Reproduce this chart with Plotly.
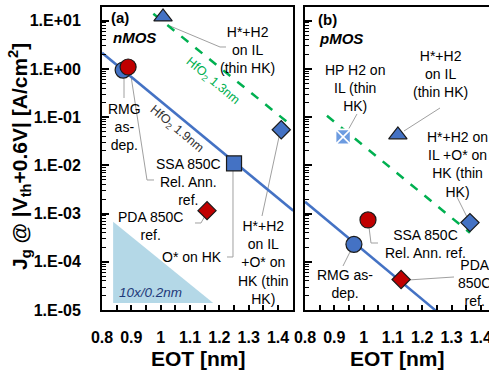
import plotly.graph_objects as go
import numpy as np

W, H = 489, 372

# ---------------- data ----------------
# nMOS (a)
N_LABELS = ["H*+H2 on IL (thin HK)", "RMG as-dep.", "SSA 850C Rel. Ann. ref.",
            "O* on HK", "H*+H2 on IL +O* on HK (thin HK)", "PDA 850C ref."]
N_EOT = [1.008, 0.872, 0.889, 1.250, 1.411, 1.158]
N_JG = [12.0, 0.95, 1.1, 0.011, 0.055, 0.00115]

# pMOS (b)
P_LABELS = ["HP H2 on IL (thin HK)", "H*+H2 on IL (thin HK)", "H*+H2 on IL +O* on HK (thin HK)",
            "SSA 850C Rel. Ann. ref.", "RMG as-dep.", "PDA 850C ref."]
P_EOT = [0.930, 1.117, 1.363, 1.015, 0.967, 1.128]
P_JG = [0.039, 0.043, 0.00065, 0.00074, 0.00023, 0.000043]

# HfO2 reference lines
N_FIT19_EOT = [0.80, 1.452]
N_FIT19_JG = [2.17, 1.15e-3]
N_FIT13_EOT = [0.975, 1.435]
N_FIT13_JG = [14.0, 0.076]
P_FIT19_EOT = [0.80, 1.250]
P_FIT19_JG = [1.76e-3, 9.3e-6]
P_FIT13_EOT = [0.875, 1.363]
P_FIT13_JG = [0.107, 4.0e-4]

# slope guide triangle (10x / 0.2nm)
SLOPE_EOT = [0.838, 0.838, 1.179, 0.838]
SLOPE_JG = [6.8e-4, 1.4e-5, 1.4e-5, 6.8e-4]

Y_TICKS = [1e-5, 1e-4, 1e-3, 1e-2, 1e-1, 1e0, 1e1]
Y_TICKTEXT = ["1.E-05", "1.E-04", "1.E-03", "1.E-02", "1.E-01", "1.E+00", "1.E+01"]
X_TICKS = [0.8, 0.9, 1.0, 1.1, 1.2, 1.3, 1.4]
X_TICKTEXT = ["0.8", "0.9", "1", "1.1", "1.2", "1.3", "1.4"]

# ---------------- style ----------------
BLUE = "#4472C4"
LBLUE = "#6C9BE0"
RED = "#C00000"
GREEN = "#00B050"
FONT = "Arial, Liberation Sans, sans-serif"
GRAY = "#A0A0A0"

def px(x):
    return x / W

def py(y):
    return 1 - y / H

XA = [px(102), px(293)]
XB = [px(305), 1.0]
YD = [py(310), py(7)]

fig = go.Figure()

# slope triangle
fig.add_trace(go.Scatter(x=SLOPE_EOT, y=SLOPE_JG, mode="lines", fill="toself",
                         fillcolor="#B4D8E7", line=dict(width=0, color="#B4D8E7"),
                         hoverinfo="skip", xaxis="x", yaxis="y"))

# fit lines
fig.add_trace(go.Scatter(x=N_FIT19_EOT, y=N_FIT19_JG, mode="lines",
                         line=dict(color=BLUE, width=2.5), xaxis="x", yaxis="y"))
fig.add_trace(go.Scatter(x=N_FIT13_EOT, y=N_FIT13_JG, mode="lines",
                         line=dict(color=GREEN, width=2.5, dash="dash"), xaxis="x", yaxis="y"))
fig.add_trace(go.Scatter(x=P_FIT19_EOT, y=P_FIT19_JG, mode="lines",
                         line=dict(color=BLUE, width=2.5), xaxis="x2", yaxis="y2"))
fig.add_trace(go.Scatter(x=P_FIT13_EOT, y=P_FIT13_JG, mode="lines",
                         line=dict(color=GREEN, width=2.5, dash="dash"), xaxis="x2", yaxis="y2"))

# markers
fig.add_trace(go.Scatter(
    x=N_EOT, y=N_JG, mode="markers", text=N_LABELS, xaxis="x", yaxis="y",
    marker=dict(symbol=["triangle-up", "circle", "circle", "square", "diamond", "diamond"],
                size=[16, 16, 16, 15, 14, 14], opacity=1,
                color=[BLUE, BLUE, RED, BLUE, BLUE, RED],
                line=dict(color="#1a1a1a", width=1.2))))
fig.add_trace(go.Scatter(
    x=P_EOT, y=P_JG, mode="markers", text=P_LABELS, xaxis="x2", yaxis="y2",
    marker=dict(symbol=["square-x", "triangle-up", "diamond", "circle", "circle", "diamond"],
                size=[15, 16, 14, 16, 16, 14], opacity=1,
                color=[LBLUE, BLUE, BLUE, RED, BLUE, RED],
                line=dict(color=["white", "#1a1a1a", "#1a1a1a", "#1a1a1a", "#1a1a1a", "#1a1a1a"],
                          width=[1.6, 1.2, 1.2, 1.2, 1.2, 1.2]))))

# leader lines (pixel coordinates)
leaders = [
    [(170, 26), (220, 47), (226, 47)],
    [(124, 78), (124, 98)],
    [(131, 76), (147, 180), (154, 180)],
    [(206, 214), (201, 223), (195, 223)],
    [(233, 171), (233, 257), (227, 257)],
    [(279, 137), (262, 216)],
    [(347, 132), (357, 114)],
    [(404, 131), (440, 108)],
    [(467, 217), (457, 197)],
    [(369, 227), (371, 243), (378, 243)],
    [(351, 250), (343, 266)],
    [(408, 280), (454, 277)],
]
shapes = []
for pts in leaders:
    path = "M " + " L ".join(f"{px(a):.5f},{py(b):.5f}" for a, b in pts)
    shapes.append(dict(type="path", path=path, xref="paper", yref="paper",
                       line=dict(color=GRAY, width=1), layer="below"))

anns = []
def ann(text, x, y, size=14, color="black", angle=0, xanchor="center", bold=False, italic=False):
    t = text
    if bold:
        t = "<b>" + t + "</b>"
    if italic:
        t = "<i>" + t + "</i>"
    anns.append(dict(text=t, x=px(x), y=py(y), xref="paper", yref="paper",
                     showarrow=False, xanchor=xanchor, yanchor="middle",
                     textangle=angle, font=dict(family=FONT, size=size, color=color)))

# panel (a)
ann("(a)", 109, 18, size=15, xanchor="left", bold=True)
ann("nMOS", 111, 37, size=15, xanchor="left", bold=True, italic=True)
ann("H*+H2<br>on IL<br>(thin HK)", 247, 50)
ann("HfO<sub>2</sub> 1.3nm", 212, 81, size=12.5, color=GREEN, angle=40)
ann("HfO<sub>2</sub> 1.9nm", 176, 129, size=12.5, color="#333333", angle=40)
ann("RMG<br>as-<br>dep.", 124, 127)
ann("SSA 850C<br>Rel. Ann.<br>ref.", 188, 182)
ann("PDA 850C<br>ref.", 150, 226)
ann("O* on HK", 192, 257)
ann("H*+H2<br>on IL<br>+O* on<br>HK (thin<br>HK)", 263, 262)
ann("10x/0.2nm", 150, 292, size=13.5, color="#1F3A7A", italic=True)

# panel (b)
ann("(b)", 316, 20, size=15, xanchor="left", bold=True)
ann("pMOS", 317, 38, size=15, xanchor="left", bold=True, italic=True)
ann("HP H2 on<br>IL (thin<br>HK)", 355, 88)
ann("H*+H2<br>on IL<br>(thin HK)", 440, 74)
ann("H*+H2 on<br>IL +O* on<br>HK (thin<br>HK)", 457, 164)
ann("SSA 850C<br>Rel. Ann. ref.", 425, 244)
ann("RMG as-<br>dep.", 345, 284)
ann("PDA<br>850C<br>ref.", 474, 283)

# axis titles
ann("J<sub>g</sub> @ |V<sub>th</sub>+0.6V| [A/cm<sup>2</sup>]", 19, 157, size=21, angle=-90, bold=True)
ann("EOT [nm]", 198, 358, size=21, bold=True)
ann("EOT [nm]", 397, 358, size=21, bold=True)

minor_y = [k * 10.0 ** e for e in range(-5, 2) for k in range(2, 10)]

def xaxis(domain, rng, anchor):
    return dict(domain=domain, range=rng, anchor=anchor, showgrid=False, zeroline=False,
                automargin=False, ticklabeloverflow="allow",
                tickvals=X_TICKS, ticktext=X_TICKTEXT, ticks="inside", ticklen=5,
                tickwidth=1.5, tickcolor="black", showline=True, linecolor="black",
                linewidth=2, mirror=True,
                tickfont=dict(family=FONT, size=16, color="black", weight="bold"),
                minor=dict(dtick=0.05, tick0=0.8, ticks="inside", ticklen=5,
                           tickwidth=1.5, tickcolor="black"),
                ticklabelstandoff=12)

def yaxis(domain, anchor, labels):
    return dict(domain=domain, type="log", range=[-5, 1.286], anchor=anchor,
                automargin=False, ticklabeloverflow="allow",
                showgrid=False, zeroline=False, tickvals=Y_TICKS, ticktext=Y_TICKTEXT,
                showticklabels=labels, ticks="inside", ticklen=7, tickwidth=1.5,
                tickcolor="black", showline=True, linecolor="black", linewidth=2,
                mirror=True,
                tickfont=dict(family=FONT, size=16, color="black", weight="bold"),
                minor=dict(tickvals=minor_y, ticks="inside", ticklen=4, tickwidth=1,
                           tickcolor="black"),
                ticklabelstandoff=16)

fig.update_layout(
    width=W, height=H, margin=dict(l=0, r=0, t=0, b=0, autoexpand=False),
    paper_bgcolor="white", plot_bgcolor="white", showlegend=False,
    xaxis=xaxis(XA, [0.8, 1.451], "y"),
    yaxis=yaxis(YD, "x", True),
    xaxis2=xaxis(XB, [0.8, 1.428], "y2"),
    yaxis2=yaxis(YD, "x2", False),
    shapes=shapes, annotations=anns,
    font=dict(family=FONT),
)

fig.write_html("out.html")
